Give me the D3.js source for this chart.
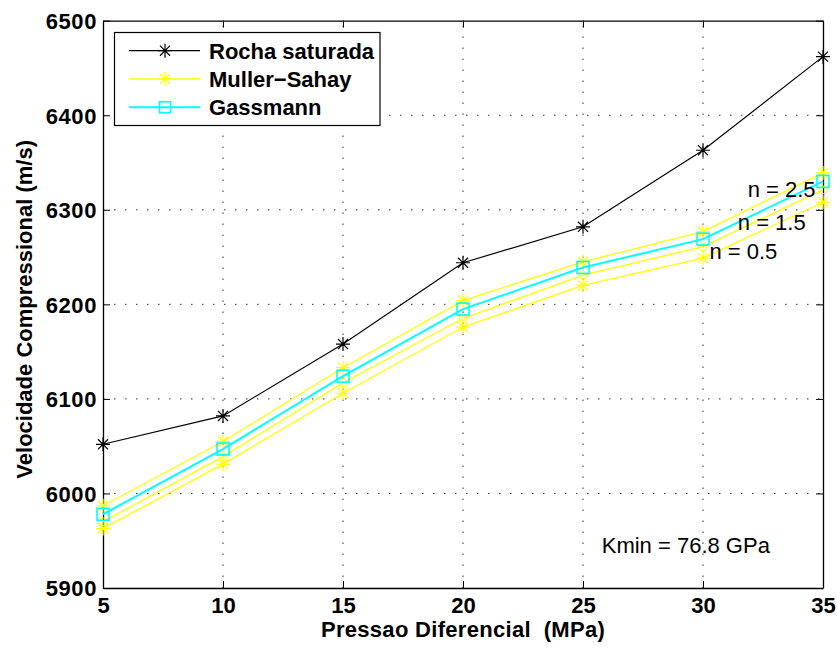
<!DOCTYPE html>
<html>
<head>
<meta charset="utf-8">
<script src="https://cdn.jsdelivr.net/npm/d3@7"></script>
<style>
  html, body { margin: 0; padding: 0; background: #fff; }
  svg { display: block; font-family: "Liberation Sans", Arial, Helvetica, sans-serif; }
</style>
</head>
<body>
<svg id="chart" width="837" height="650"></svg>
<script>
// Differential pressure (MPa)
const pressure = [5, 10, 15, 20, 25, 30, 35];

// Compressional velocity (m/s)
const rochaSaturada = [6052, 6082, 6158, 6244, 6282, 6363, 6462];
const gassmann      = [5978, 6047, 6124, 6195, 6239, 6269, 6330];
const mullerN25     = [5987, 6055, 6133, 6204, 6245, 6277, 6339];
const mullerN15     = [5970, 6039, 6117, 6185, 6231, 6261, 6321];
const mullerN05     = [5963, 6031, 6106, 6176, 6220, 6249, 6308];

const xTicks = [5, 10, 15, 20, 25, 30, 35];
const yTicks = [5900, 6000, 6100, 6200, 6300, 6400, 6500];

const legendLabels = ["Rocha saturada", "Muller\u2212Sahay", "Gassmann"];
const curveLabels = [
  { text: "n = 2.5", x: 31.86, y: 6314 },
  { text: "n = 1.5", x: 31.45, y: 6279 },
  { text: "n = 0.5", x: 30.27, y: 6248 }
];
const noteText = "Kmin = 76.8 GPa";

const svg = d3.select("#chart");
const plotL = 103, plotR = 823, plotT = 20.7, plotB = 588;

const x = d3.scaleLinear().domain([5, 35]).range([plotL, plotR]);
const y = d3.scaleLinear().domain([5900, 6500]).range([plotB, plotT]);

svg.append("rect").attr("width", 837).attr("height", 650).attr("fill", "#fff");

// dotted grid
const grid = svg.append("g").attr("stroke", "#333").attr("stroke-width", 1)
  .attr("stroke-dasharray", "1.5,9.5");
grid.selectAll(".gx").data(xTicks.slice(1, -1)).join("line")
  .attr("x1", d => x(d)).attr("x2", d => x(d)).attr("y1", plotB).attr("y2", plotT);
grid.selectAll(".gy").data(yTicks.slice(1, -1)).join("line")
  .attr("y1", d => y(d)).attr("y2", d => y(d)).attr("x1", plotL).attr("x2", plotR);

// axes (ticks pointing inward, box on all sides)
const tickLen = 7;
const font = 22;
const axB = d3.axisBottom(x).tickValues(xTicks).tickSizeInner(-tickLen).tickSizeOuter(0).tickPadding(9);
const axT = d3.axisTop(x).tickValues(xTicks).tickSizeInner(-tickLen).tickSizeOuter(0).tickFormat("");
const axL = d3.axisLeft(y).tickValues(yTicks).tickSizeInner(-tickLen).tickSizeOuter(0).tickPadding(6).tickFormat(d3.format("d"));
const axR = d3.axisRight(y).tickValues(yTicks).tickSizeInner(-tickLen).tickSizeOuter(0).tickFormat("");

function style(g) {
  g.select(".domain").attr("stroke", "#000").attr("stroke-width", 1.3);
  g.selectAll(".tick line").attr("stroke", "#000").attr("stroke-width", 1);
  g.selectAll(".tick text").attr("fill", "#000").attr("font-size", font)
    .attr("font-weight", "bold").attr("font-family", "'Liberation Sans', Arial, sans-serif");
}
svg.append("g").attr("transform", `translate(0,${plotB})`).call(axB).call(style)
  .selectAll(".tick text").attr("dy", "0.71em");
svg.append("g").attr("transform", `translate(0,${plotT})`).call(axT).call(style);
svg.append("g").attr("transform", `translate(${plotL},0)`).call(axL).call(style)
  .selectAll(".tick text").attr("dy", "0.36em").attr("letter-spacing", 0.6);
svg.append("g").attr("transform", `translate(${plotR},0)`).call(axR).call(style);

// axis titles
svg.append("text").attr("x", (plotL + plotR) / 2).attr("y", 637)
  .attr("text-anchor", "middle").attr("font-size", font).attr("font-weight", "bold")
  .attr("letter-spacing", 0.3).style("white-space", "pre")
  .text("Pressao Diferencial  (MPa)");
svg.append("text").attr("transform", `translate(32,${(plotT + plotB) / 2 + 5}) rotate(-90)`)
  .attr("text-anchor", "middle").attr("font-size", font).attr("font-weight", "bold")
  .text("Velocidade Compressional (m/s)");

// markers
function star(g, cx, cy, color, r) {
  const d = r * 0.72;
  g.append("path")
    .attr("d", `M${cx - r},${cy}H${cx + r}M${cx},${cy - r}V${cy + r}` +
      `M${cx - d},${cy - d}L${cx + d},${cy + d}M${cx - d},${cy + d}L${cx + d},${cy - d}`)
    .attr("stroke", color).attr("stroke-width", 1.2).attr("fill", "none");
}
function square(g, cx, cy, color, s) {
  g.append("rect").attr("x", cx - s / 2).attr("y", cy - s / 2).attr("width", s).attr("height", s)
    .attr("fill", "none").attr("stroke", color).attr("stroke-width", 1.6);
}
function circle(g, cx, cy, color, r) {
  g.append("circle").attr("cx", cx).attr("cy", cy).attr("r", r)
    .attr("fill", "none").attr("stroke", color).attr("stroke-width", 1);
}

const line = d3.line().x((d, i) => x(pressure[i])).y(d => y(d));
const plot = svg.append("g");

function series(values, color, width, marker) {
  plot.append("path").datum(values).attr("d", line)
    .attr("fill", "none").attr("stroke", color).attr("stroke-width", width);
  values.forEach((v, i) => marker(plot, x(pressure[i]), y(v)));
}

series(rochaSaturada, "#000", 1.2, (g, cx, cy) => star(g, cx, cy, "#000", 7));
series(mullerN25, "#ffff00", 1.3, (g, cx, cy) => star(g, cx, cy, "#ffff00", 7));
series(mullerN15, "#ffff00", 1.3, (g, cx, cy) => circle(g, cx, cy, "#ffff00", 4));
series(mullerN05, "#ffff00", 1.3, (g, cx, cy) => star(g, cx, cy, "#ffff00", 7));
series(gassmann, "#00ffff", 2, (g, cx, cy) => square(g, cx, cy, "#00ffff", 12));

// curve annotations
svg.append("g").selectAll("text").data(curveLabels).join("text")
  .attr("x", d => x(d.x)).attr("y", d => y(d.y))
  .attr("font-size", font).attr("fill", "#000").text(d => d.text);
svg.append("text").attr("x", x(25.78)).attr("y", y(5936.5))
  .attr("font-size", font).attr("fill", "#000").text(noteText);

// legend
const lg = svg.append("g");
lg.append("rect").attr("x", 114.5).attr("y", 32.5).attr("width", 265.5).attr("height", 93)
  .attr("fill", "#fff").attr("stroke", "#000").attr("stroke-width", 1.2);
const rowsY = [50.7, 79, 107.3];
const legendStyles = [
  { color: "#000", w: 1.2, m: (g, cx, cy) => star(g, cx, cy, "#000", 7) },
  { color: "#ffff00", w: 1.3, m: (g, cx, cy) => star(g, cx, cy, "#ffff00", 7) },
  { color: "#00ffff", w: 2, m: (g, cx, cy) => square(g, cx, cy, "#00ffff", 11) }
];
legendLabels.forEach((lab, i) => {
  const st = legendStyles[i];
  lg.append("line").attr("x1", 129).attr("x2", 200).attr("y1", rowsY[i]).attr("y2", rowsY[i])
    .attr("stroke", st.color).attr("stroke-width", st.w);
  st.m(lg, 165, rowsY[i]);
  lg.append("text").attr("x", 209).attr("y", rowsY[i]).attr("dy", "0.36em")
    .attr("font-size", font).attr("font-weight", "bold").text(lab);
});
</script>
</body>
</html>
